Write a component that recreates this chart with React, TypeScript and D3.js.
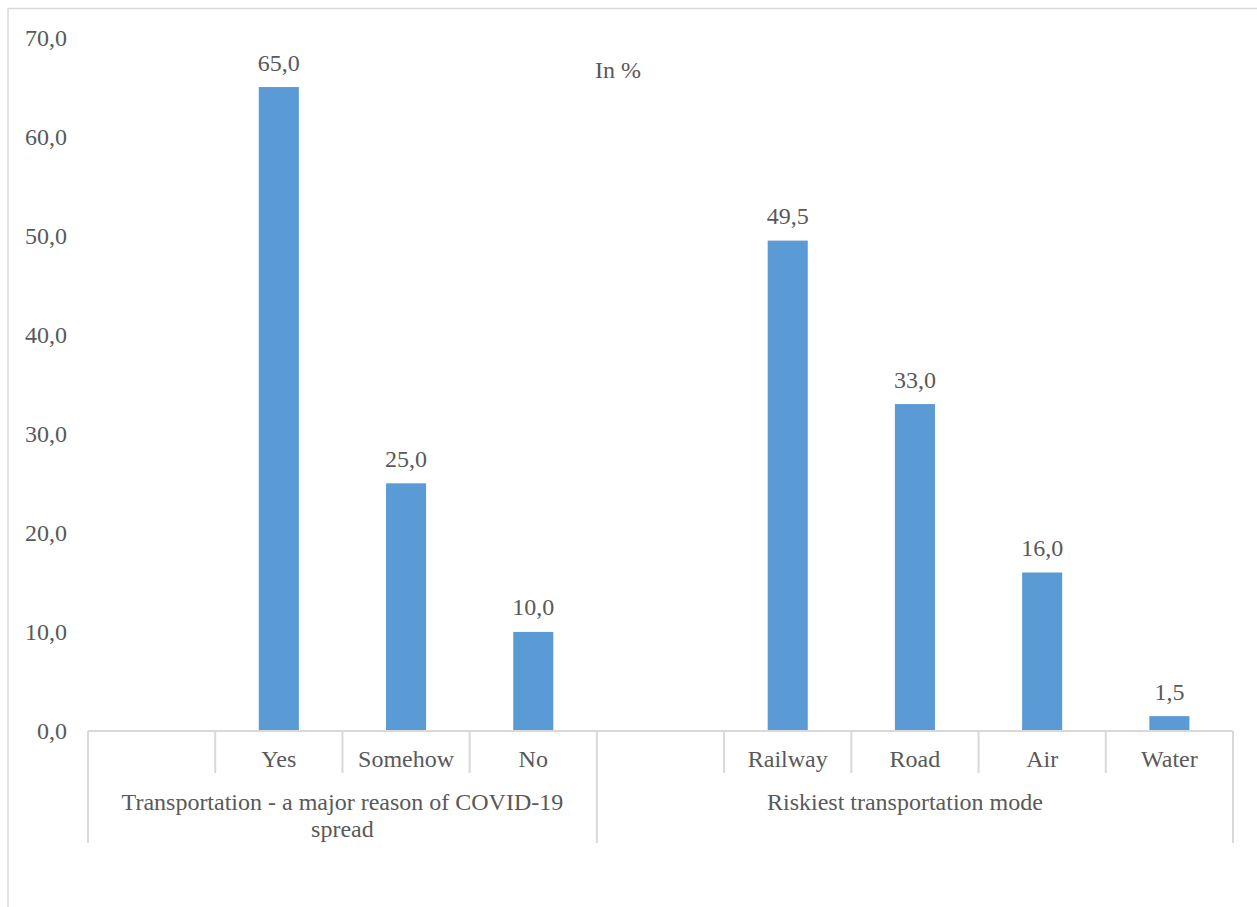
import React from "react";
import * as d3 from "d3";

// Survey groups: each group begins with an empty slot, as in the source layout
const groupLabels: string[][] = [
  ["Transportation - a major reason of COVID-19", "spread"],
  ["Riskiest transportation mode"],
];
const groupCategories: string[][] = [
  ["", "Yes", "Somehow", "No"],
  ["", "Railway", "Road", "Air", "Water"],
];
const groupValues: (number | null)[][] = [
  [null, 65.0, 25.0, 10.0],
  [null, 49.5, 33.0, 16.0, 1.5],
];
const yTicks: number[] = [0, 10, 20, 30, 40, 50, 60, 70];
const unitNote = "In %";

const WIDTH = 1257;
const HEIGHT = 907;
const PLOT_LEFT = 88;
const PLOT_RIGHT = 1233;
const PLOT_TOP = 37.5;
const PLOT_BOTTOM = 731;

const TEXT = "#595959";
const LINE = "#d9d9d9";
const BAR = "#5b9bd5";
const FONT = "Liberation Serif, Times New Roman, Tinos, serif";
const FS = 24;

const fmt = (v: number) => d3.format(".1f")(v).replace(".", ",");

type Slot = { id: string; label: string; value: number | null; group: number };

const slots: Slot[] = [];
groupCategories.forEach((cats, g) =>
  cats.forEach((c, i) =>
    slots.push({ id: `${g}-${i}`, label: c, value: groupValues[g][i], group: g })
  )
);

const textStyle: React.CSSProperties = { fontFamily: FONT, fontSize: FS, fill: TEXT };

export default function App() {
  const x = d3
    .scaleBand<string>()
    .domain(slots.map((s) => s.id))
    .range([PLOT_LEFT, PLOT_RIGHT])
    .paddingInner(0)
    .paddingOuter(0);
  const y = d3.scaleLinear().domain([0, 70]).range([PLOT_BOTTOM, PLOT_TOP]);
  const step = x.bandwidth();
  const barW = step * 0.315;

  // group boundaries; the last group's label box sits slightly left of centre
  const groupBounds = groupCategories.map((cats, g) => {
    const first = slots.find((s) => s.group === g)!;
    const last = [...slots].reverse().find((s) => s.group === g)!;
    return { x0: x(first.id)!, x1: x(last.id)! + step };
  });
  const labelShift = [0, -10];

  return (
    <svg
      width={WIDTH}
      height={HEIGHT}
      style={{ position: "fixed", left: 0, top: 0, background: "#fff" }}
    >
      <rect x={0} y={0} width={WIDTH} height={HEIGHT} fill="#fff" />
      {/* chart-area frame */}
      <line x1={8} y1={8.5} x2={WIDTH} y2={8.5} stroke={LINE} strokeWidth={1.5} />
      <line x1={8} y1={8} x2={8} y2={HEIGHT} stroke={LINE} strokeWidth={1.5} />

      {/* y tick labels */}
      {yTicks.map((t) => (
        <text key={t} x={67} y={y(t) + 8} textAnchor="end" style={textStyle}>
          {fmt(t)}
        </text>
      ))}

      <text x={595} y={78} style={textStyle}>
        {unitNote}
      </text>

      {/* bars and value labels */}
      {slots
        .filter((s) => s.value !== null)
        .map((s) => {
          const cx = x(s.id)! + step / 2;
          const v = s.value as number;
          return (
            <g key={s.id}>
              <rect
                x={cx - barW / 2}
                y={y(v)}
                width={barW}
                height={y(0) - y(v)}
                fill={BAR}
              />
              <text x={cx} y={y(v) - 16.5} textAnchor="middle" style={textStyle}>
                {fmt(v)}
              </text>
            </g>
          );
        })}

      {/* category axis */}
      <line
        x1={PLOT_LEFT}
        y1={PLOT_BOTTOM}
        x2={PLOT_RIGHT}
        y2={PLOT_BOTTOM}
        stroke={LINE}
        strokeWidth={2}
      />
      {slots.map((s, i) => {
        const x0 = x(s.id)!;
        const isGroupStart = i === 0 || slots[i - 1].group !== s.group;
        return (
          <g key={`tick-${s.id}`}>
            {!isGroupStart && (
              <line x1={x0} y1={PLOT_BOTTOM} x2={x0} y2={773} stroke={LINE} strokeWidth={2} />
            )}
            {s.label && (
              <text x={x0 + step / 2} y={767} textAnchor="middle" style={textStyle}>
                {s.label}
              </text>
            )}
          </g>
        );
      })}

      {/* group boundaries and labels */}
      {groupBounds.map((b, g) => (
        <g key={`grp-${g}`}>
          <line x1={b.x0} y1={PLOT_BOTTOM} x2={b.x0} y2={843} stroke={LINE} strokeWidth={2} />
          {g === groupBounds.length - 1 && (
            <line x1={b.x1} y1={PLOT_BOTTOM} x2={b.x1} y2={843} stroke={LINE} strokeWidth={2} />
          )}
          {groupLabels[g].map((line, li) => (
            <text
              key={li}
              x={(b.x0 + b.x1) / 2 + labelShift[g]}
              y={810 + li * 27}
              textAnchor="middle"
              style={textStyle}
            >
              {line}
            </text>
          ))}
        </g>
      ))}
    </svg>
  );
}
